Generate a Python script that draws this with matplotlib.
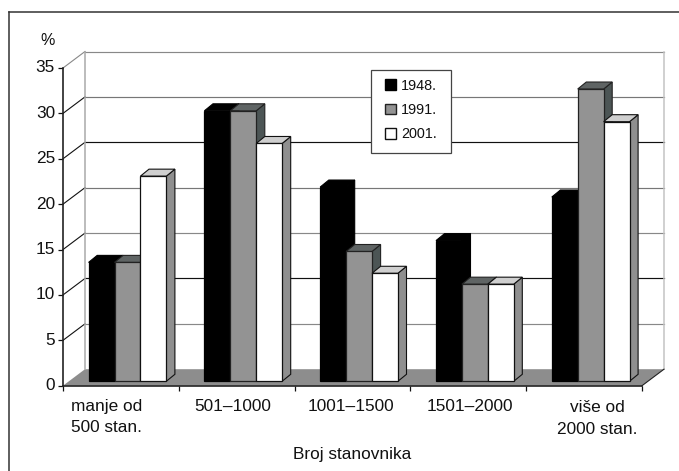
import matplotlib
matplotlib.use("Agg")
import matplotlib.pyplot as plt
from matplotlib.patches import Patch, Polygon, Rectangle
from matplotlib.lines import Line2D
from matplotlib.transforms import ScaledTranslation

plt.rcParams['font.family'] = ['Liberation Sans', 'DejaVu Sans']

categories = ["manje od\n500 stan.", "501–1000", "1001–1500", "1501–2000", "više od\n2000 stan."]
v1948 = [13.1, 29.8, 21.4, 15.5, 20.3]
v1991 = [13.1, 29.8, 14.3, 10.7, 32.2]
v2001 = [22.6, 26.2, 11.9, 10.7, 28.6]
years = ["1948.", "1991.", "2001."]
yticks = [0, 5, 10, 15, 20, 25, 30, 35]
grid_cols = {0: '#888888', 5: '#888888', 10: '#111111', 15: '#888888', 20: '#777777', 25: '#111111', 30: '#777777', 35: '#888888'}

W, H = 679, 471
L, R, T, B = 63.0, 642.0, 68.0, 385.7
fig = plt.figure(figsize=(W/100, H/100), dpi=100)
ax = fig.add_axes([L/W, 1-B/H, (R-L)/W, (B-T)/H])
ax.set_xlim(0, 5)
ax.set_ylim(0, 35)
ax.patch.set_alpha(0)

ux = (R-L)/5     # px per category
uy = (B-T)/35    # px per value
wall_dx, wall_dy = 22/ux, 16.5/uy
bar_dx, bar_dy = 8.6/ux, 7/uy
bar_w = 25.9/ux
bar_x0 = 25.6/ux
bar_y0 = 4.4/uy

# floor, walls and grid
ax.add_patch(Polygon([(0, 0), (wall_dx, wall_dy), (5+wall_dx, wall_dy), (5, 0)],
                     closed=True, fc='#8d8d8d', ec='none', zorder=1, clip_on=False))
for v in yticks:
    c = grid_cols[v]
    if v > 0:
        ax.plot([wall_dx, 5+wall_dx], [v+wall_dy]*2, color=c, lw=0.85, zorder=1.5, clip_on=False)
        ax.plot([0, wall_dx], [v, v+wall_dy], color=c if v == 35 else '#111111', lw=0.8, zorder=1.5, clip_on=False)
ax.plot([wall_dx]*2, [wall_dy, 35+wall_dy], color='#aaaaaa', lw=1.1, zorder=1.6, clip_on=False)
ax.plot([5+wall_dx]*2, [wall_dy, 35+wall_dy], color='#c4c4c4', lw=1.1, zorder=1.6, clip_on=False)
ax.plot([5, 5+wall_dx], [0, wall_dy], color='#222222', lw=0.8, zorder=1.6, clip_on=False)

# bars
series = [
    (v1948, '#000000', '#000000', '#000000', '#000000'),
    (v1991, '#939393', '#5f6464', '#4c5555', '#222222'),
    (v2001, '#ffffff', '#cfcfcf', '#8f8f8f', '#111111'),
]
z = 2.0
for i in range(len(categories)):
    for j, (vals, front, top, side, edge) in enumerate(series):
        x = i + bar_x0 + j*bar_w
        y0 = bar_y0
        y1 = bar_y0 + vals[i]
        ax.add_patch(Polygon([(x+bar_w, y0), (x+bar_w+bar_dx, y0+bar_dy), (x+bar_w+bar_dx, y1+bar_dy), (x+bar_w, y1)],
                             closed=True, fc=side, ec=edge, lw=0.8, zorder=z, clip_on=False))
        ax.add_patch(Polygon([(x, y1), (x+bar_dx, y1+bar_dy), (x+bar_w+bar_dx, y1+bar_dy), (x+bar_w, y1)],
                             closed=True, fc=top, ec=edge, lw=0.8, zorder=z, clip_on=False))
        ax.bar(x, vals[i], width=bar_w, bottom=y0, align='edge', color=front, edgecolor=edge, lw=0.9, zorder=z+0.01, clip_on=False)
        z += 0.1

# axes
for s in ('top', 'right'):
    ax.spines[s].set_visible(False)
for s in ('left', 'bottom'):
    ax.spines[s].set_linewidth(1.2)
    ax.spines[s].set_color('#222222')
    ax.spines[s].set_zorder(50)
ax.set_yticks(yticks)
ax.set_xticks(range(6))
ax.set_xticklabels([])
ax.tick_params(axis='y', labelsize=12.4, length=3.4, width=0.9, pad=2.4, colors='#111111')
ax.tick_params(axis='x', length=3.6, width=0.9, colors='#111111')
shift = ScaledTranslation(0, 1.5/100, fig.dpi_scale_trans)
for lab in ax.get_yticklabels():
    lab.set_transform(lab.get_transform() + shift)

# category labels: offset from group centre (px), top edge (px)
lab_off = [-14, -3.7, -2, 1.5, 13]
lab_top = [399, 399, 399, 399, 400.5]
for i, c in enumerate(categories):
    ax.text(i+0.5+lab_off[i]/ux, (B-lab_top[i])/uy, c, ha='center', va='top', fontsize=12.4, color='#111111',
            linespacing=1.5, clip_on=False)
ax.text((47.7-L)/ux, (B-40.7)/uy, "%", ha='center', va='center', fontsize=11.5, color='#111111', clip_on=False)
fig.text(352/W, 1-454/H, "Broj stanovnika", ha='center', va='center', fontsize=12.4, color='#111111')

# legend frame and legend
fig.add_artist(Rectangle((371.3/W, 1-152.7/H), 79.4/W, 83/H, transform=fig.transFigure,
                         fc='white', ec='#444444', lw=0.9, zorder=55))
handles = [Patch(fc='#000000', ec='#000000'), Patch(fc='#939393', ec='#222222'), Patch(fc='#ffffff', ec='#111111')]
leg = fig.legend(handles, years, loc='upper left', bbox_to_anchor=(385.3/W, 1-78.5/H), bbox_transform=fig.transFigure,
                 fontsize=10.4, frameon=False, borderaxespad=0, borderpad=0,
                 handlelength=0.76, handleheight=0.76, handletextpad=0.33, labelspacing=0.72,
                 labelcolor='#111111')
leg.set_zorder(60)

# outer frame
fig.add_artist(Line2D([8.5/W, 8.5/W], [0, 1-11.5/H], color='#333333', lw=1.1))
fig.add_artist(Line2D([8.5/W, 1], [1-11.5/H, 1-11.5/H], color='#333333', lw=1.1))

fig.savefig("out.png", dpi=100)
